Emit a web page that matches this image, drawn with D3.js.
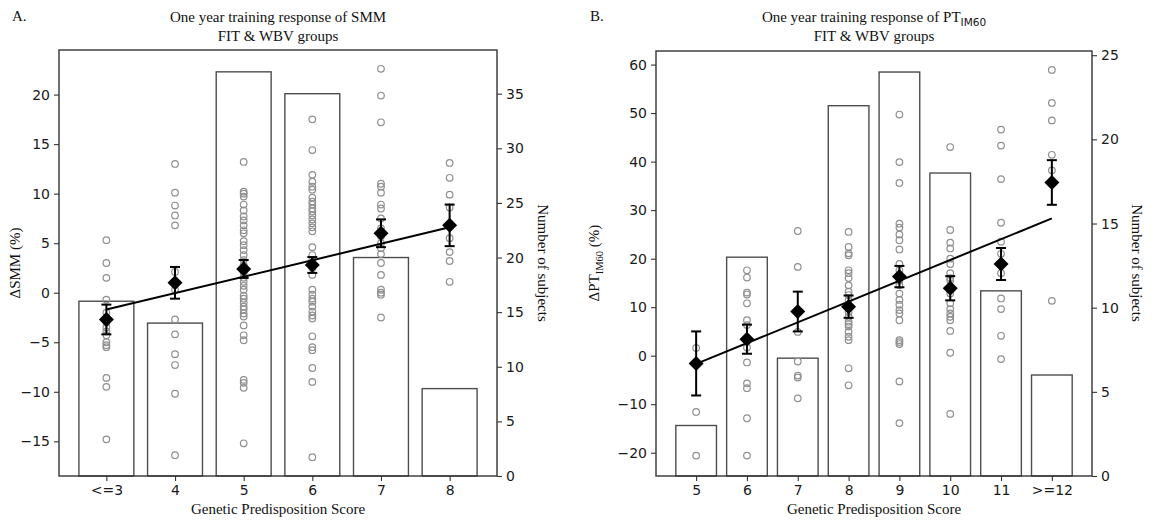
<!DOCTYPE html>
<html>
<head>
<meta charset="utf-8">
<script src="https://cdn.jsdelivr.net/npm/d3@7"></script>
<style>
  html, body { margin: 0; padding: 0; background: #fff; }
  svg { display: block; }
  .serif { font-family: "Liberation Serif", "DejaVu Serif", serif; }
  .sans { font-family: "DejaVu Sans", sans-serif; }
</style>
</head>
<body>
<svg id="chart" width="1157" height="524"></svg>
<script>
// ---------------- DATA ----------------
// Panel A: SMM
const catsA = ["<=3", "4", "5", "6", "7", "8"];
const countsA = [16, 14, 37, 35, 20, 8];
const meansA = [-2.7, 1.0, 2.4, 2.8, 6.0, 6.8];
const errA = [1.5, 1.6, 0.9, 0.8, 1.4, 2.1];
const fitA = [-1.7, 6.6]; // regression line value at first and last category
const pointsA = [
  [5.3, 3.0, 1.5, -0.7, -2.0, -2.5, -3.0, -3.5, -3.9, -4.3, -5.0, -5.3, -5.5, -8.6, -9.5, -14.8],
  [13.0, 10.1, 8.8, 7.8, 6.8, 2.1, 1.0, 0.3, -2.7, -4.2, -6.2, -7.3, -10.2, -16.4],
  [13.2, 10.2, 10.0, 9.7, 8.9, 8.3, 7.7, 7.3, 6.8, 6.3, 6.0, 5.2, 4.8, 4.3, 3.8, 3.3, 2.8, 2.4, 2.0, 1.5, 1.1, 0.7, 0.3, -0.3, -0.6, -1.0, -1.4, -1.7, -2.1, -2.4, -3.3, -4.3, -4.8, -8.8, -9.1, -9.6, -15.2],
  [17.5, 14.4, 11.9, 11.2, 10.7, 10.4, 9.6, 9.2, 8.9, 8.5, 8.2, 7.8, 7.4, 7.0, 6.6, 6.2, 4.6, 3.8, 3.3, 2.5, 1.8, 0.3, -0.2, -0.6, -0.9, -1.4, -1.9, -2.3, -2.6, -4.4, -5.5, -5.8, -7.6, -9.0, -16.6],
  [22.6, 19.9, 17.2, 11.0, 10.7, 10.1, 8.9, 8.5, 7.5, 6.5, 5.7, 5.0, 4.5, 3.9, 3.0, 1.8, 0.3, 0.0, -0.2, -2.5],
  [13.1, 11.6, 9.9, 8.6, 5.5, 4.1, 3.2, 1.1]
];
const yTicksA = [-15, -10, -5, 0, 5, 10, 15, 20];
const y2TicksA = [0, 5, 10, 15, 20, 25, 30, 35];

// Panel B: PT IM60
const catsB = ["5", "6", "7", "8", "9", "10", "11", ">=12"];
const countsB = [3, 13, 7, 22, 24, 18, 11, 6];
const meansB = [-1.6, 3.4, 9.1, 10.1, 16.3, 13.9, 18.9, 35.7];
const errB = [6.6, 3.0, 4.1, 2.3, 2.2, 2.5, 3.3, 4.6];
const fitB = [-1.7, 28.3];
const pointsB = [
  [1.6, -11.6, -20.6],
  [17.6, 16.1, 13.0, 12.6, 10.8, 7.3, 6.3, 1.7, -1.4, -5.7, -6.7, -12.9, -20.6],
  [25.7, 18.3, 4.9, -1.2, -4.1, -4.5, -8.8],
  [25.5, 22.4, 21.1, 20.7, 17.6, 17.0, 16.0, 14.5, 13.2, 12.5, 11.5, 10.0, 9.0, 8.0, 7.0, 6.5, 6.0, 4.9, 3.9, 3.2, -2.6, -6.1],
  [49.7, 39.9, 35.6, 27.2, 26.4, 25.0, 23.8, 21.9, 18.9, 17.6, 16.5, 15.5, 14.5, 12.8, 11.5, 10.5, 9.4, 8.7, 7.3, 3.2, 2.8, 2.4, -5.3, -13.9],
  [43.0, 25.9, 23.3, 22.1, 20.0, 18.9, 17.0, 16.0, 15.5, 12.8, 10.8, 9.6, 8.7, 8.0, 7.3, 5.1, 0.6, -12.0],
  [46.6, 43.3, 36.4, 27.4, 23.5, 21.0, 17.0, 11.8, 9.6, 4.1, -0.7],
  [58.9, 52.1, 48.5, 41.4, 38.2, 11.3]
];
const yTicksB = [-20, -10, 0, 10, 20, 30, 40, 50, 60];
const y2TicksB = [0, 5, 10, 15, 20, 25];

// ---------------- DRAW ----------------
const svg = d3.select("#chart");

function drawPanel(cfg) {
  const { left, right, top, bottom, cats, counts, means, errs, fit, points,
          yDomain, y2Domain, yTicks, y2Ticks } = cfg;
  const g = svg.append("g");
  const n = cats.length;
  const m = (n - 1 + 0.8) * 0.05;
  const x = d3.scaleLinear().domain([-0.4 - m, n - 1 + 0.4 + m]).range([left, right]);
  const y = d3.scaleLinear().domain(yDomain).range([bottom, top]);
  const y2 = d3.scaleLinear().domain(y2Domain).range([bottom, top]);
  const bw = x(0.8) - x(0);

  // bars (count) - outline only
  g.append("g").selectAll("rect").data(counts).join("rect")
    .attr("x", (d, i) => x(i) - bw / 2)
    .attr("y", d => y2(d))
    .attr("width", bw)
    .attr("height", d => y2(0) - y2(d))
    .attr("fill", "none")
    .attr("stroke", "#4d4d4d")
    .attr("stroke-width", 1.4);

  // scatter points
  const pts = [];
  points.forEach((arr, i) => arr.forEach(v => pts.push({ i, v })));
  g.append("g").selectAll("circle").data(pts).join("circle")
    .attr("cx", d => x(d.i))
    .attr("cy", d => y(d.v))
    .attr("r", 3.3)
    .attr("fill", "none")
    .attr("stroke", "#909090")
    .attr("stroke-width", 1.2);

  // regression line
  g.append("line")
    .attr("x1", x(0)).attr("y1", y(fit[0]))
    .attr("x2", x(n - 1)).attr("y2", y(fit[1]))
    .attr("stroke", "#000").attr("stroke-width", 2);

  // error bars
  const eg = g.append("g").attr("stroke", "#000").attr("stroke-width", 2);
  means.forEach((mv, i) => {
    const cx = x(i);
    eg.append("line").attr("x1", cx).attr("x2", cx)
      .attr("y1", y(mv - errs[i])).attr("y2", y(mv + errs[i]));
    eg.append("line").attr("x1", cx - 5).attr("x2", cx + 5)
      .attr("y1", y(mv - errs[i])).attr("y2", y(mv - errs[i]));
    eg.append("line").attr("x1", cx - 5).attr("x2", cx + 5)
      .attr("y1", y(mv + errs[i])).attr("y2", y(mv + errs[i]));
  });

  // diamonds
  const s = 7.5;
  g.append("g").selectAll("path").data(means).join("path")
    .attr("d", (d, i) => {
      const cx = x(i), cy = y(d);
      return `M${cx},${cy - s}L${cx + s},${cy}L${cx},${cy + s}L${cx - s},${cy}Z`;
    })
    .attr("fill", "#000");

  // frame
  g.append("rect")
    .attr("x", left).attr("y", top)
    .attr("width", right - left).attr("height", bottom - top)
    .attr("fill", "none").attr("stroke", "#333").attr("stroke-width", 1.4);

  // axes
  const fmt = d => (d < 0 ? "\u2212" + Math.abs(d) : String(d));
  const xAxis = d3.axisBottom(x).tickValues(d3.range(n)).tickFormat(i => cats[i]).tickSize(5).tickPadding(4);
  const yAxis = d3.axisLeft(y).tickValues(yTicks).tickFormat(fmt).tickSize(5).tickPadding(4);
  const y2Axis = d3.axisRight(y2).tickValues(y2Ticks).tickSize(5).tickPadding(4);

  const styleAxis = sel => {
    sel.select(".domain").remove();
    sel.selectAll(".tick line").attr("stroke", "#333").attr("stroke-width", 1.1);
    sel.selectAll(".tick text").attr("class", "sans").attr("font-size", 14).attr("fill", "#1a1a1a");
  };
  g.append("g").attr("transform", `translate(0,${bottom})`).call(xAxis).call(styleAxis);
  g.append("g").attr("transform", `translate(${left},0)`).call(yAxis).call(styleAxis);
  g.append("g").attr("transform", `translate(${right},0)`).call(y2Axis).call(styleAxis);
  return { x, y, y2 };
}

// Panel A
drawPanel({
  left: 59, right: 497, top: 50, bottom: 476,
  cats: catsA, counts: countsA, means: meansA, errs: errA, fit: fitA, points: pointsA,
  yDomain: [-18.5, 24.5], y2Domain: [0, 39], yTicks: yTicksA, y2Ticks: y2TicksA
});
// Panel B
drawPanel({
  left: 656, right: 1092, top: 51, bottom: 476,
  cats: catsB, counts: countsB, means: meansB, errs: errB, fit: fitB, points: pointsB,
  yDomain: [-24.8, 62.8], y2Domain: [0, 25.25], yTicks: yTicksB, y2Ticks: y2TicksB
});

// ---------------- TEXT ----------------
const T = (x, y, txt, size, anchor, cls) =>
  svg.append("text").attr("x", x).attr("y", y).attr("font-size", size)
    .attr("text-anchor", anchor || "middle").attr("class", cls || "serif").attr("fill", "#111").text(txt);

T(12, 21, "A.", 15, "start");
T(590, 21, "B.", 15, "start");

T(278, 22, "One year training response of SMM", 15);
T(278, 41, "FIT & WBV groups", 15);

// Title B with subscript
const tB = svg.append("text").attr("x", 874).attr("y", 22).attr("font-size", 15)
  .attr("text-anchor", "middle").attr("class", "serif").attr("fill", "#111");
tB.append("tspan").text("One year training response of PT");
tB.append("tspan").attr("class", "sans").attr("font-size", 10.5).attr("dy", 4).text("IM60");
T(874, 41, "FIT & WBV groups", 15);

T(278, 514, "Genetic Predisposition Score", 15);
T(874, 514, "Genetic Predisposition Score", 15);

// y labels
svg.append("text").attr("class", "serif").attr("font-size", 15).attr("fill", "#111")
  .attr("text-anchor", "middle")
  .attr("transform", "translate(20,263) rotate(-90)").text("\u0394SMM (%)");

const ylB = svg.append("text").attr("class", "serif").attr("font-size", 15).attr("fill", "#111")
  .attr("text-anchor", "middle")
  .attr("transform", "translate(599,263) rotate(-90)");
ylB.append("tspan").text("\u0394PT");
ylB.append("tspan").attr("font-size", 10.5).attr("dy", 4).text("IM60");
ylB.append("tspan").attr("dy", -4).text(" (%)");

svg.append("text").attr("class", "serif").attr("font-size", 15).attr("fill", "#111")
  .attr("text-anchor", "middle")
  .attr("transform", "translate(538,263) rotate(90)").text("Number of subjects");
svg.append("text").attr("class", "serif").attr("font-size", 15).attr("fill", "#111")
  .attr("text-anchor", "middle")
  .attr("transform", "translate(1132,263) rotate(90)").text("Number of subjects");
</script>
</body>
</html>
